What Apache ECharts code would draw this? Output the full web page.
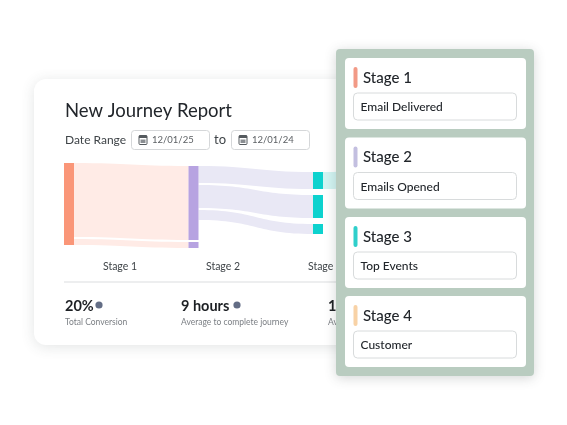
<!DOCTYPE html>
<html>
<head>
<meta charset="utf-8">
<style>html,body{margin:0;padding:0;background:#fff}#main{width:567px;height:425px}</style>
<script src="https://cdn.jsdelivr.net/npm/echarts@6/dist/echarts.min.js"></script>
</head>
<body>
<div id="main"></div>
<script>
var FONT = 'Lato';
var stageLabels = ['Stage 1', 'Stage 2', 'Stage 3'];
var panelStages = ['Stage 1', 'Stage 2', 'Stage 3', 'Stage 4'];
var panelEvents = ['Email Delivered', 'Emails Opened', 'Top Events', 'Customer'];
var panelColors = ['#f29a86', '#c3bfe0', '#2fcfcb', '#f8d2a6'];
var dateValues = ['12/01/25', '12/01/24'];
var statValues = ['20%', '9 hours', '1'];
var statNames = ['Total Conversion', 'Average to complete journey', 'Av'];

// sankey nodes, per column top to bottom. pad* and gap* only hold space
var column1 = [['sent', 82]];
var column2 = [['pad2', 3], ['opened', 74], ['gapA', 2], ['lost', 6]];
var column3 = [['pad3', 9], ['eventA', 17], ['gapB', 6], ['eventB', 23], ['gapC', 6], ['eventC', 10], ['rest', 20]];
var column4 = [['customer', 17]];
// source, target, value
var flowLinks = [
    ['sent', 'opened', 74], ['sent', 'gapA', 2], ['sent', 'lost', 6],
    ['opened', 'eventA', 17], ['opened', 'gapB', 2], ['opened', 'eventB', 23],
    ['opened', 'gapC', 2], ['opened', 'eventC', 10], ['opened', 'rest', 20],
    ['eventA', 'customer', 17]
];
var nodeColors = {sent: '#fa9678', opened: '#b7a3e1', lost: '#b7a3e1', eventA: '#0dd2ce', eventB: '#0dd2ce', eventC: '#0dd2ce', customer: '#f8d2a6'};
var linkColors = {sent: '#ffebe6', opened: '#e9e8f5', eventA: '#d2f4f2'};

var nodes = [];
[column1, column2, column3, column4].forEach(function(col, depth){
    col.forEach(function(n){
        var c = nodeColors[n[0]];
        nodes.push({name: n[0], value: n[1], depth: depth, itemStyle: c ? {color: c} : {color: 'rgba(0,0,0,0)', opacity: 0}});
    });
});
var links = flowLinks.map(function(l){
    var show = nodeColors[l[1]];
    return {source: l[0], target: l[1], value: l[2], lineStyle: show ? {color: linkColors[l[0]], opacity: 1} : {opacity: 0}};
});

function rect(x, y, w, h, r, fill, z, extra){
    var style = {fill: fill};
    for (var k in extra) style[k] = extra[k];
    return {type: 'rect', shape: {x: x, y: y, width: w, height: h, r: r}, style: style, z: z, silent: true};
}
function text(x, y, s, size, color, z, weight, align){
    return {type: 'text', x: x, y: y, z: z, silent: true, style: {text: s, font: (weight || 'normal') + ' ' + size + 'px ' + FONT, fill: color, textAlign: align || 'left', textVerticalAlign: 'middle'}};
}

var els = [];
// report card
els.push(rect(34, 79, 330, 266, 12, '#fff', 0, {shadowBlur: 14, shadowColor: 'rgba(60,70,70,0.14)', shadowOffsetY: 2}));
els.push(text(65, 111, 'New Journey Report', 18.5, '#22262b', 1));
els.push(text(65, 140, 'Date Range', 12, '#3f4448', 1));
els.push(text(214, 140, 'to', 13, '#3f4448', 1));
[131, 231].forEach(function(x, i){
    els.push(rect(x + 0.5, 130.5, 78, 19, 3, '#fff', 1, {stroke: '#d5d7d9', lineWidth: 1}));
    // calendar icon
    els.push(rect(x + 8, 135.5, 8, 9, 1, '#fff', 1, {stroke: '#555a5e', lineWidth: 1}));
    els.push(rect(x + 8, 135.5, 8, 2.5, 0, '#555a5e', 1));
    els.push(rect(x + 9.5, 139.5, 5, 3.5, 0, '#8a8e92', 1));
    els.push(text(x + 21, 140, dateValues[i], 9.5, '#5c6064', 1));
});
[120, 223, 325].forEach(function(x, i){
    els.push(text(x, 267, stageLabels[i], 10.5, '#3f4448', 1, 'normal', 'center'));
});
els.push(rect(64, 281.5, 280, 1, 0, '#dcdedf', 1));
[65, 181, 328].forEach(function(x, i){
    els.push(text(x, 306, statValues[i], 14.5, '#1d2024', 1, 'bold'));
    els.push(text(x, 322, statNames[i], 8.5, '#7b7f84', 1));
});
[99, 237].forEach(function(x){
    els.push({type: 'circle', shape: {cx: x, cy: 305, r: 3.6}, style: {fill: '#636d85'}, z: 1, silent: true});
});

// stage panel
els.push(rect(336, 49, 198, 327, 4, '#b9ccc0', 10, {shadowBlur: 12, shadowColor: 'rgba(60,70,70,0.22)', shadowOffsetY: 2}));
[58, 137.5, 217, 296].forEach(function(y, i){
    els.push(rect(345, y, 181, 71, 4, '#fff', 11));
    els.push(rect(353.5, y + 9, 4, 21, 2, panelColors[i], 12));
    els.push(text(363, y + 20, panelStages[i], 15, '#22262b', 12, '500'));
    els.push(rect(353.5, y + 35, 163, 27, 4, '#fff', 12, {stroke: '#d8dbdc', lineWidth: 1}));
    els.push(text(360.5, y + 49.5, panelEvents[i], 12, '#22262b', 12, '500'));
});

var chart = echarts.init(document.getElementById('main'));
chart.setOption({
    animation: false,
    backgroundColor: '#fff',
    graphic: {elements: els},
    series: [{
        type: 'sankey',
        left: 64, top: 163, width: 383.5, height: 91,
        nodeWidth: 10,
        nodeGap: 0,
        nodeAlign: 'left',
        layoutIterations: 0,
        draggable: false,
        silent: true,
        label: {show: false},
        itemStyle: {borderWidth: 0},
        lineStyle: {curveness: 0.5},
        emphasis: {disabled: true},
        data: nodes,
        links: links
    }]
});
</script>
</body>
</html>
